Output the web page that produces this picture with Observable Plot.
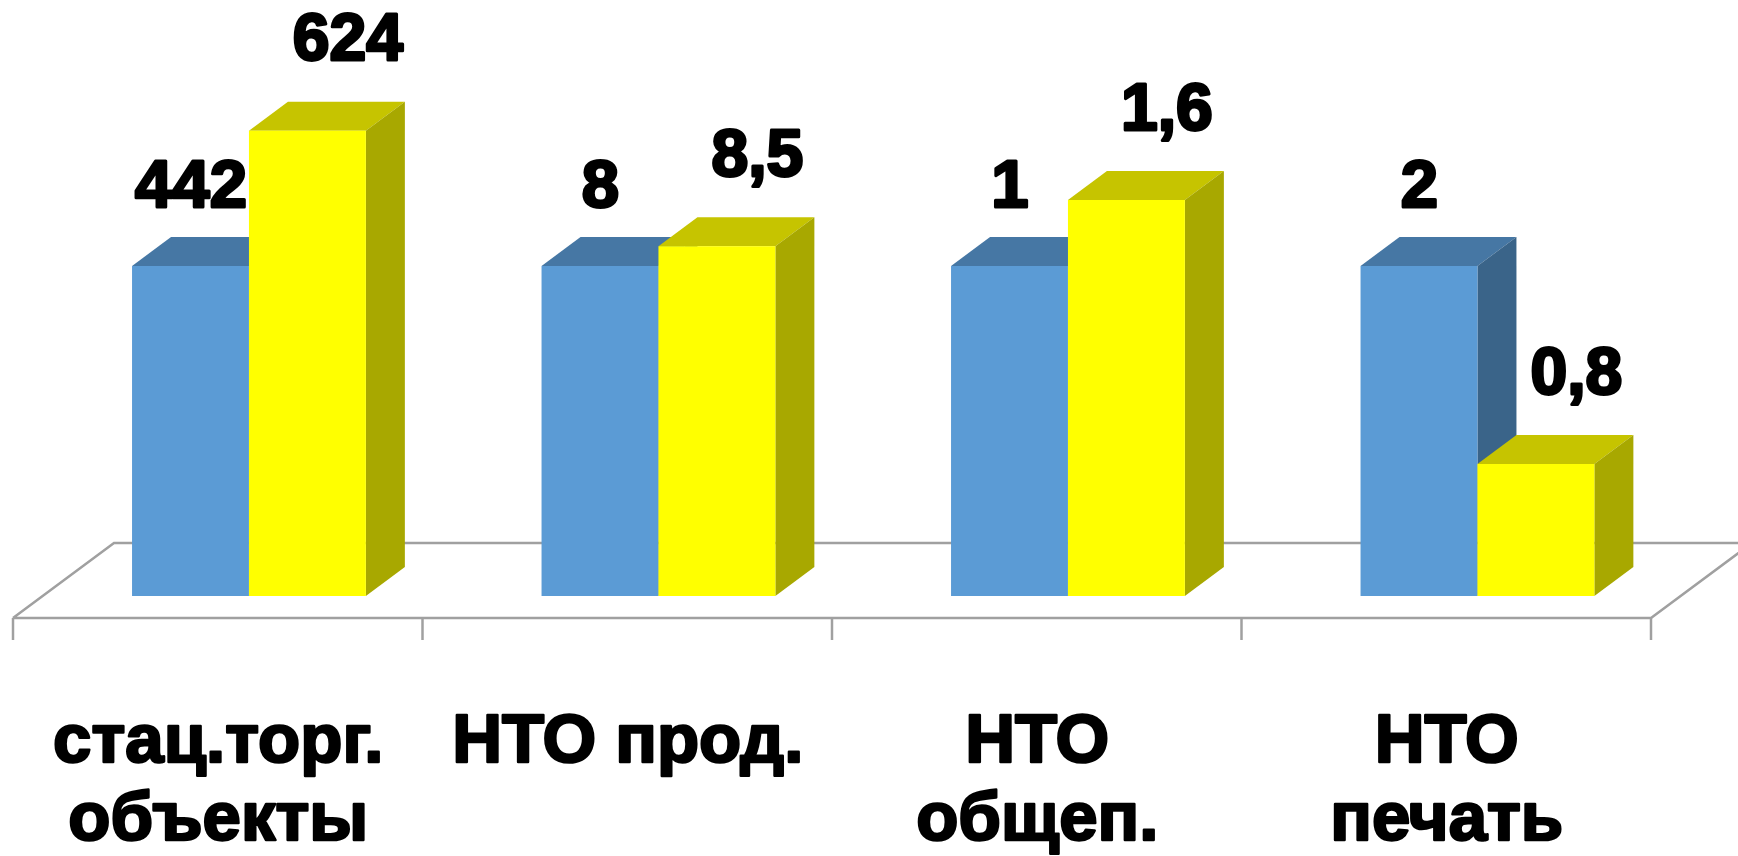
<!DOCTYPE html>
<html><head><meta charset="utf-8">
<script src="https://cdn.jsdelivr.net/npm/d3@7"></script>
<script src="https://cdn.jsdelivr.net/npm/@observablehq/plot@0.6"></script>
<style>html,body{margin:0;padding:0;background:#fff;overflow:hidden}</style>
</head><body><div id="chart"></div>
<script>
// ---- data ----
const categories = ["стац.торг.\nобъекты", "НТО прод.", "НТО\nобщеп.", "НТО\nпечать"];
// bar heights (the drawing is relative: first period = 100 for each category)
const baseHeights = [100, 100, 100, 100];
const currentHeights = [141, 106, 120, 40];
// value labels printed over the bars
const baseLabels = ["442", "8", "1", "2"];
const currentLabels = ["624", "8,5", "1,6", "0,8"];

// ---- styling ----
const front = ["#5B9BD5", "#FFFF00"];
const top3d = ["#4677A4", "#C6C400"];
const side3d = ["#3A6489", "#A8A800"];
const BAR_W = 0.2855, BAR_OFF = 0.215;
const DX = 39, DY = 29;          // bar depth (px)
const FX = -31, FY = 22;         // floor front edge relative to bar front
const FDX = 101, FDY = -75;      // floor depth (px)
const FONT = "'Liberation Sans', Arial, sans-serif";

const rows = categories.flatMap((c, i) => [
  {i, s: 0, value: baseHeights[i], label: baseLabels[i]},
  {i, s: 1, value: currentHeights[i], label: currentLabels[i]}
]);
const bx1 = d => d.i + BAR_OFF + d.s * BAR_W;
const bx2 = d => bx1(d) + BAR_W;

function floorMark(index, scales) {
  const {x, y} = scales;
  const g = d3.create("svg:g").attr("fill", "none").attr("stroke", "#A0A0A0").attr("stroke-width", 2.5);
  const y0 = y(0) + FY;
  const xa = x(0) + FX, xb = x(categories.length) + FX;
  g.append("path").attr("d", `M${xa},${y0}L${xa + FDX},${y0 + FDY}L${xb + FDX},${y0 + FDY}M${xa},${y0}L${xb},${y0}L${xb + FDX},${y0 + FDY}`);
  for (let k = 0; k <= categories.length; ++k) {
    const xt = x(k) + FX;
    g.append("line").attr("x1", xt).attr("x2", xt).attr("y1", y0).attr("y2", y0 + 22);
  }
  return g.node();
}

function facesMark(index, scales) {
  const {x, y} = scales;
  const g = d3.create("svg:g");
  for (const d of rows) {
    const X1 = x(bx1(d)), X2 = x(bx2(d)), Y0 = y(0), Y1 = y(d.value);
    g.append("path").attr("fill", top3d[d.s])
      .attr("d", `M${X1},${Y1}L${X2},${Y1}L${X2 + DX},${Y1 - DY}L${X1 + DX},${Y1 - DY}Z`);
    g.append("path").attr("fill", side3d[d.s])
      .attr("d", `M${X2},${Y1}L${X2 + DX},${Y1 - DY}L${X2 + DX},${Y0 - DY}L${X2},${Y0}Z`);
  }
  return g.node();
}

const base = rows.filter(d => d.s === 0);
const cur = rows.filter(d => d.s === 1);
const catRows = categories.map((c, i) => ({i, c}));

const chart = Plot.plot({
  width: 1738,
  height: 856,
  margin: 0,
  x: {domain: [0, 4], range: [44, 1682], axis: null},
  y: {domain: [0, 100], range: [596, 266], axis: null},
  style: {background: "#fff", fontFamily: FONT},
  marks: [
    floorMark,
    facesMark,
    Plot.rect(base, {x1: bx1, x2: bx2, y1: () => 0, y2: "value", fill: front[0]}),
    Plot.rect(cur, {x1: bx1, x2: bx2, y1: () => 0, y2: "value", fill: front[1]}),
    Plot.text(base, {x: d => (bx1(d) + bx2(d)) / 2, y: "value", text: "label", dx: 0, dy: -60,
      lineAnchor: "bottom", fontSize: 67, fontWeight: "bold", fill: "black", stroke: "black", strokeWidth: 3}),
    Plot.text(cur, {x: d => (bx1(d) + bx2(d)) / 2, y: "value", text: "label", dx: 40, dy: -71,
      lineAnchor: "bottom", fontSize: 66, fontWeight: "bold", fill: "black", stroke: "black", strokeWidth: 3}),
    Plot.text(catRows, {x: d => d.i + 0.5, y: () => 0, text: "c", dx: FX, dy: 110,
      lineAnchor: "top", lineHeight: 1.13, fontSize: 69, fontWeight: "bold", fill: "black", stroke: "black", strokeWidth: 2.5})
  ]
});
document.getElementById("chart").appendChild(chart);
</script>
</body></html>
